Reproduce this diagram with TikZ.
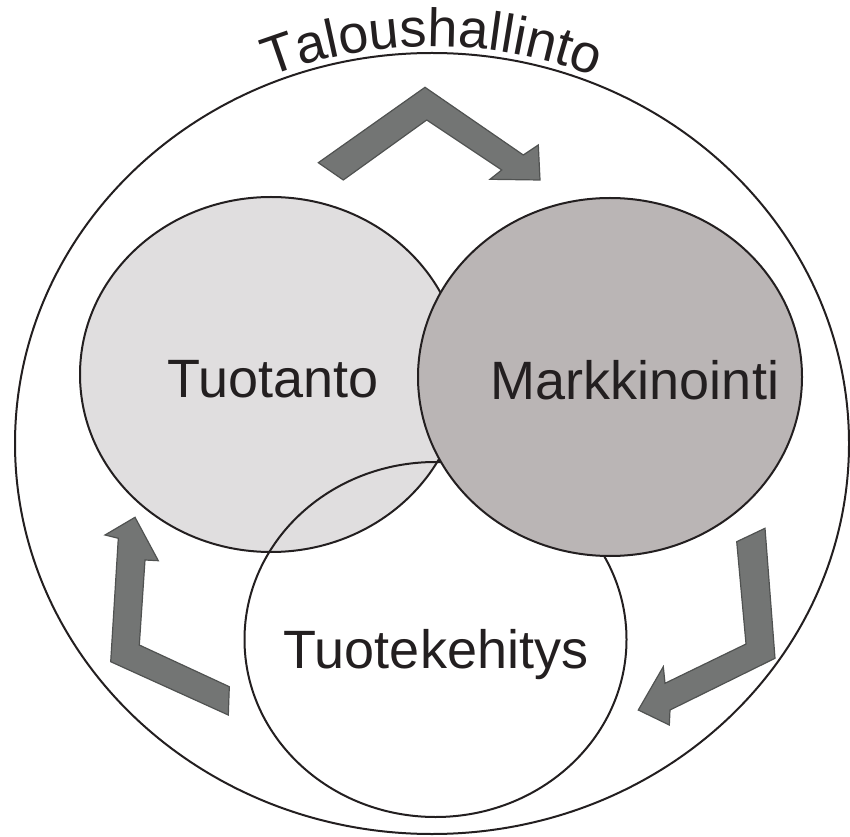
\documentclass[tikz,border=0pt]{standalone}
\usepackage{fontspec}
\newfontfamily\labelfont{Liberation Sans}
\usetikzlibrary{shapes.geometric,decorations.text}
\definecolor{inkdark}{HTML}{231F20}
\definecolor{prodfill}{HTML}{E0DEDF}
\definecolor{markfill}{HTML}{BAB5B5}
\definecolor{arrowfill}{HTML}{737574}
\definecolor{arrowline}{HTML}{505251}
\newcommand\bigfont{\labelfont\fontsize{54}{54}\selectfont}
\newcommand\arcfont{\labelfont\fontsize{54}{54}\selectfont}
\begin{document}
\begin{tikzpicture}[x=1pt,y=1pt,
  area/.style={ellipse,draw=inkdark,line width=2pt,inner sep=0pt},
  blockarrow/.style={fill=arrowfill,draw=arrowline,line width=1.2pt,line join=miter},
  areatext/.style={anchor=base,text=inkdark,font=\bigfont,inner sep=0pt}]
\useasboundingbox (0,0) rectangle (850,836);

% outer area: financial administration
\node[area,minimum width=834pt,minimum height=781pt] (talous) at (432,392.5) {};

% cycle arrows
\draw[blockarrow] (318.3,673.3) -- (425,748.7) -- (523.3,681) -- (538.3,691)
  -- (540,656) -- (490,656.7) -- (501.7,666) -- (426.7,716) -- (343.3,656) -- cycle;
\draw[blockarrow] (736.7,294.3) -- (765,307.7) -- (775,177.7) -- (670,126)
  -- (669.3,111) -- (638.3,126) -- (663.3,169.3) -- (665,152.7) -- (746,192) -- cycle;
\draw[blockarrow] (135,318.7) -- (158.3,275.3) -- (145,276) -- (139.3,191)
  -- (229.3,149.3) -- (228.3,121) -- (110.7,174.3) -- (118.3,297.7) -- (105,301) -- cycle;

% the three overlapping functions
\node[area,fill=prodfill,minimum width=382pt,minimum height=355pt] (tuotanto) at (271,461.5) {};
\node[area,minimum width=382pt,minimum height=355pt] (kehitys) at (435.5,196.5) {};
\node[area,fill=markfill,minimum width=384pt,minimum height=358pt] (markkinointi) at (610,459) {};

\node[areatext] (ttuotanto) at (273,438) {Tuotanto};
\node[areatext] (tmarkkinointi) at (635,436) {Markkinointi};
\node[areatext] (tkehitys) at (436,168) {Tuotekehitys};

% label bent along the top of the outer area
\path[decorate,decoration={text along path,text color=inkdark,
    text={|\arcfont|Taloushallinto},text align=center}]
  (432,392.5) ++(160:425 and 397)
  arc[start angle=160,end angle=20,x radius=425,y radius=397];
\end{tikzpicture}
\end{document}
